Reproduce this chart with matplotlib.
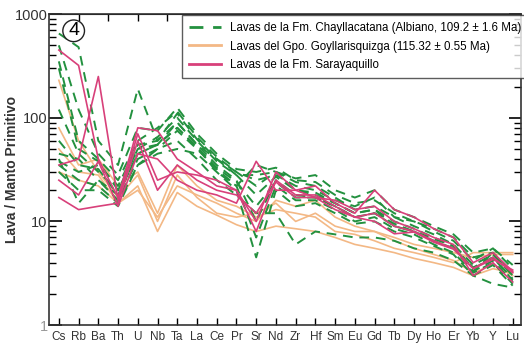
import matplotlib
matplotlib.use("Agg")
import matplotlib.pyplot as plt
import numpy as np

plt.rcParams['font.family'] = ['Liberation Sans', 'DejaVu Sans']

# elements (primitive mantle normalised spider diagram)
elements = ["Cs", "Rb", "Ba", "Th", "U", "Nb", "Ta", "La", "Ce", "Pr", "Sr", "Nd",
            "Zr", "Hf", "Sm", "Eu", "Gd", "Tb", "Dy", "Ho", "Er", "Yb", "Y", "Lu"]

# Fm. Chayllacatana (green, dashed)
chayllacatana = [
    [650, 480, 60, 35, 190, 60, 90, 55, 40, 30, 25, 28, 22, 20, 16, 14, 17, 11, 10, 8, 6.5, 4.2, 5.5, 3.5],
    [500, 120, 45, 28, 80, 75, 125, 70, 45, 32, 30, 33, 25, 24, 18, 15, 16, 12, 10, 8.5, 7, 4.5, 5, 3.2],
    [350, 60, 40, 25, 60, 80, 115, 65, 42, 30, 22, 30, 24, 22, 17, 13, 14, 11, 9, 7.5, 6, 3.8, 4.8, 3.0],
    [120, 45, 30, 20, 50, 65, 100, 60, 38, 28, 18, 27, 20, 19, 15, 12, 13, 10, 8.5, 7, 5.8, 3.5, 4.5, 2.8],
    [60, 35, 32, 18, 45, 55, 90, 55, 35, 25, 10, 25, 18, 17, 14, 11, 12, 9.5, 8, 6.5, 5.5, 3.3, 4.2, 2.6],
    [40, 15, 25, 16, 40, 50, 75, 50, 32, 22, 7, 22, 16, 16, 13, 10, 11, 8.5, 7.5, 6, 5, 3.2, 4, 2.5],
    [35, 25, 22, 15, 35, 45, 50, 45, 30, 20, 4.5, 20, 14, 15, 12, 9.5, 10, 8, 7, 5.8, 4.8, 3.0, 3.8, 2.4],
    [38, 30, 35, 22, 55, 60, 110, 62, 40, 28, 28, 30, 26, 28, 20, 17, 20, 13, 11, 9, 7.5, 5, 5.5, 3.8],
    [45, 40, 25, 18, 45, 55, 80, 52, 33, 24, 14, 24, 17, 17, 14, 11, 12, 9, 8, 6.5, 5.5, 3.6, 4.5, 2.7],
    [30, 20, 20, 14, 35, 50, 60, 40, 25, 18, 12, 12, 6, 8, 7.5, 7, 7, 6.5, 5.5, 5, 4.2, 3, 2.5, 2.3],
    [300, 50, 38, 20, 50, 55, 80, 52, 30, 22, 35, 30, 20, 18, 15, 12, 13, 9, 8, 6.8, 5.8, 3.3, 5.0, 3.0],
]

# Gpo. Goyllarisquizga (orange)
goyllarisquizga = [
    [230, 60, 30, 17, 28, 10, 28, 17, 12, 11, 12, 15, 10, 12, 9, 8, 8, 7, 6, 5.5, 5, 4.5, 4.8, 4.8],
    [80, 35, 40, 22, 30, 12, 35, 22, 16, 14, 11, 13, 12, 11, 8, 7.5, 6.5, 5.5, 5, 4.5, 4, 5, 5, 5],
    [50, 30, 28, 15, 22, 8, 19, 14, 11.5, 9.3, 8, 9, 8.5, 8, 7, 6, 5.5, 5, 4.4, 4, 3.6, 3, 3.5, 3.2],
    [30, 25, 22, 15, 20, 11, 22, 18, 15, 12, 10, 16, 14, 16, 11, 9, 8, 6.5, 5.5, 4.8, 4.2, 3.2, 3.8, 3.0],
]

# Fm. Sarayaquillo (pink)
sarayaquillo = [
    [450, 320, 40, 17, 80, 75, 40, 30, 22, 20, 8, 25, 18, 18, 14, 11, 12, 9, 8, 6.5, 5.5, 3.5, 4.5, 3.2],
    [17, 13, 14, 15, 60, 20, 35, 25, 20, 18, 12, 24, 17, 17, 13, 11, 10, 7.6, 7.9, 6.3, 5.4, 3.5, 4.3, 3.4],
    [35, 40, 250, 16, 70, 25, 30, 28, 25, 20, 10, 30, 20, 22, 15, 12, 20, 13, 11, 8.5, 7, 4, 5, 3.3],
    [25, 18, 38, 14, 45, 40, 25, 20, 18, 15, 38, 20, 20, 17, 16, 13, 14, 10, 8.5, 7, 6, 3.0, 4, 2.6],
]

green = "#23913f"
orange = "#f3b885"
pink = "#d8407a"

fig = plt.figure(figsize=(5.24, 3.44), dpi=100)
ax = fig.add_axes([0.0935, 0.055, 0.9, 0.904])
x = np.arange(len(elements))

for i, s in enumerate(goyllarisquizga):
    ax.plot(x, s, color=orange, lw=1.2, zorder=2,
            label="Lavas del Gpo. Goyllarisquizga (115.32 ± 0.55 Ma)" if i == 0 else None)
for i, s in enumerate(chayllacatana):
    ax.plot(x, s, color=green, lw=1.4, ls=(0, (5, 3.5)), zorder=3,
            label="Lavas de la Fm. Chayllacatana (Albiano, 109.2 ± 1.6 Ma)" if i == 0 else None)
for i, s in enumerate(sarayaquillo):
    ax.plot(x, s, color=pink, lw=1.2, zorder=4,
            label="Lavas de la Fm. Sarayaquillo" if i == 0 else None)

ax.set_yscale("log")
ax.set_ylim(1, 1000)
ax.set_xlim(-0.5, 23.4)
ax.set_xticks(x)
ax.set_xticklabels(elements, fontsize=8.5, color="#333333")
ax.set_yticks([1, 10, 100, 1000])
ax.set_yticklabels(["1", "10", "100", "1000"], fontsize=10.5, color="#333333")
ax.get_yticklabels()[0].set_color("#999999")
ax.tick_params(axis="x", direction="in", length=5, width=1, pad=4)
ax.tick_params(axis="y", which="major", direction="in", length=9, width=1.2, right=True, pad=1)
ax.tick_params(axis="y", which="minor", direction="in", length=5, width=1, right=True)
for sp in ax.spines.values():
    sp.set_linewidth(1.2)
    sp.set_color("#333333")

# extra ticks on top edge
top = ax.secondary_xaxis("top")
top.set_xticks([1, 2.5, 4, 5.5])
top.set_xticklabels([])
top.tick_params(direction="in", length=5, width=1)

ax.set_ylabel("Lava / Manto Primitivo", fontsize=10, fontweight="bold", color="#333333", va="center")
ax.yaxis.set_label_coords(-0.079, 0.5)

ax.text(0.75, 690, "4", fontsize=14, ha="center", va="center", zorder=6,
        bbox=dict(boxstyle="circle,pad=0.12", fc="white", ec="#222222", lw=1))

handles, labels = ax.get_legend_handles_labels()
order = [1, 0, 2]
leg = ax.legend([handles[i] for i in order], [labels[i] for i in order],
                loc="upper right", bbox_to_anchor=(1.018, 1.0), fontsize=8.3,
                frameon=True, fancybox=False,
                borderaxespad=0.1, handlelength=2.8, labelspacing=0.6,
                borderpad=0.55, handletextpad=0.8)
leg.get_frame().set_edgecolor("#333333")
leg.get_frame().set_linewidth(1)
for h in leg.legend_handles:
    h.set_linewidth(2)

fig.savefig("out.png", dpi=100)
